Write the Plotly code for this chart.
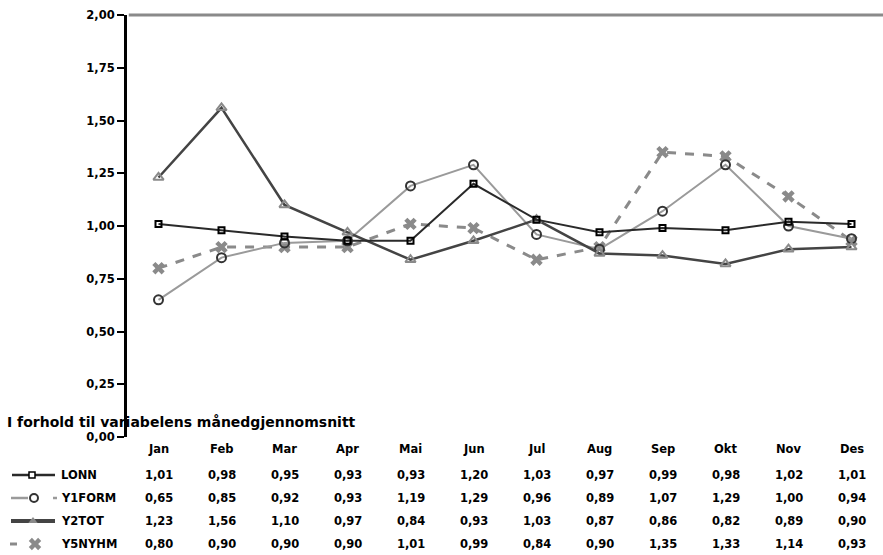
import plotly.graph_objects as go

months = ["Jan", "Feb", "Mar", "Apr", "Mai", "Jun", "Jul", "Aug", "Sep", "Okt", "Nov", "Des"]
LONN = [1.01, 0.98, 0.95, 0.93, 0.93, 1.20, 1.03, 0.97, 0.99, 0.98, 1.02, 1.01]
Y1FORM = [0.65, 0.85, 0.92, 0.93, 1.19, 1.29, 0.96, 0.89, 1.07, 1.29, 1.00, 0.94]
Y2TOT = [1.23, 1.56, 1.10, 0.97, 0.84, 0.93, 1.03, 0.87, 0.86, 0.82, 0.89, 0.90]
Y5NYHM = [0.80, 0.90, 0.90, 0.90, 1.01, 0.99, 0.84, 0.90, 1.35, 1.33, 1.14, 0.93]
yticks = [0, 0.25, 0.5, 0.75, 1.0, 1.25, 1.5, 1.75, 2.0]
title_text = "I forhold til variabelens månedgjennomsnitt"

W, H = 883, 555
FONT = "DejaVu Sans, Verdana, sans-serif"
FS = 11.5

series = [
    dict(name="Y5NYHM", data=Y5NYHM, line=dict(color="#8a8a8a", width=3, dash="dash"),
         marker=dict(symbol="x", size=11, color="#8a8a8a", line=dict(width=0))),
    dict(name="Y1FORM", data=Y1FORM, line=dict(color="#9a9a9a", width=2),
         marker=dict(symbol="circle-open", size=9, color="#333333", line=dict(width=2, color="#333333"))),
    dict(name="Y2TOT", data=Y2TOT, line=dict(color="#444444", width=2.5),
         marker=dict(symbol="triangle-up-open", size=9, color="#8a8a8a", line=dict(width=2, color="#8a8a8a"))),
    dict(name="LONN", data=LONN, line=dict(color="#2a2a2a", width=2),
         marker=dict(symbol="square-open", size=6, color="#000000", line=dict(width=2, color="#000000"))),
]

fig = go.Figure()
for s in series:
    fig.add_trace(go.Scatter(x=months, y=s["data"], mode="lines+markers", name=s["name"],
                             line=s["line"], marker=s["marker"], showlegend=False,
                             xaxis="x", yaxis="y", cliponaxis=False))

# legend samples in bottom-left region (x2/y2 in pixel units)
rows = {"LONN": 80, "Y1FORM": 57, "Y2TOT": 34, "Y5NYHM": 11}
row_order = ["LONN", "Y1FORM", "Y2TOT", "Y5NYHM"]


def sample(xs, y, **kw):
    fig.add_trace(go.Scatter(x=xs, y=[y] * len(xs), xaxis="x2", yaxis="y2",
                             showlegend=False, hoverinfo="skip", **kw))


sample([12, 55], rows["LONN"], mode="lines", line=dict(color="#2a2a2a", width=2.5))
sample([32], rows["LONN"], mode="markers",
       marker=dict(symbol="square", size=6, color="white", line=dict(width=1.5, color="black")))
sample([11, 28], rows["Y1FORM"], mode="lines", line=dict(color="#9a9a9a", width=2.5))
sample([53, 57], rows["Y1FORM"], mode="lines", line=dict(color="#9a9a9a", width=2.5))
sample([34], rows["Y1FORM"], mode="markers",
       marker=dict(symbol="circle-open", size=8, color="#333333", line=dict(width=2, color="#333333")))
sample([11, 55], rows["Y2TOT"], mode="lines", line=dict(color="#444444", width=4))
sample([33], rows["Y2TOT"], mode="markers", marker=dict(symbol="triangle-up", size=8, color="#8a8a8a"))
sample([10, 17], rows["Y5NYHM"], mode="lines", line=dict(color="#8a8a8a", width=3))
sample([35], rows["Y5NYHM"], mode="markers",
       marker=dict(symbol="x", size=11, color="#8a8a8a", line=dict(width=0)))

annotations = []
data_map = {"LONN": LONN, "Y1FORM": Y1FORM, "Y2TOT": Y2TOT, "Y5NYHM": Y5NYHM}
for name in row_order:
    annotations.append(dict(x=59, y=rows[name], xref="x2", yref="y2", text=f"<b>{name}</b>", showarrow=False,
                            xanchor="left", yanchor="middle", font=dict(size=FS, color="black")))
    for m, v in zip(months, data_map[name]):
        annotations.append(dict(x=m, y=rows[name], xref="x", yref="y2",
                                text="<b>" + f"{v:.2f}".replace(".", ",") + "</b>", showarrow=False,
                                xanchor="center", yanchor="middle", font=dict(size=FS, color="black")))
for m in months:
    annotations.append(dict(x=m, y=106, xref="x", yref="y2", text=f"<b>{m}</b>", showarrow=False,
                            xanchor="center", yanchor="middle", font=dict(size=FS, color="black")))
annotations.append(dict(x=5 / W, y=(H - 422) / H, xref="paper", yref="paper", text=f"<b>{title_text}</b>",
                        showarrow=False, xanchor="left", yanchor="middle", font=dict(size=14, color="black")))

x0 = 127 / W
y0 = 118 / H
y1 = 1 - 15 / H
fig.update_layout(
    template="none",
    width=W, height=H,
    margin=dict(l=0, r=0, t=0, b=0, autoexpand=False),
    paper_bgcolor="white", plot_bgcolor="white",
    font=dict(family=FONT, size=FS, color="black"),
    separators=",.",
    xaxis=dict(domain=[x0, 1], range=[-0.5, 11.5], type="category", categoryorder="array",
               categoryarray=months, showticklabels=False, showgrid=False, zeroline=False,
               showline=False, ticks="", automargin=False),
    yaxis=dict(domain=[y0, y1], range=[0, 2], tickvals=yticks, tickformat=".2f",
               showgrid=False, zeroline=False, showline=True, linecolor="black", linewidth=3,
               ticks="outside", ticklen=7, tickwidth=2, tickcolor="black", automargin=False,
               tickfont=dict(size=FS, weight="bold", color="black")),
    xaxis2=dict(domain=[0, x0], range=[0, 127], visible=False, fixedrange=True, automargin=False),
    yaxis2=dict(domain=[0, y0], range=[0, 118], visible=False, fixedrange=True, anchor="x2", automargin=False),
    annotations=annotations,
    shapes=[dict(type="line", xref="paper", yref="paper", x0=x0 + 0.002, x1=1, y0=y1, y1=y1,
                 line=dict(color="#8a8a8a", width=3), layer="above")],
)
fig.write_html("out.html", config={"displayModeBar": False, "staticPlot": True},
               post_script="document.body.style.margin='0';document.body.style.overflow='hidden';")
